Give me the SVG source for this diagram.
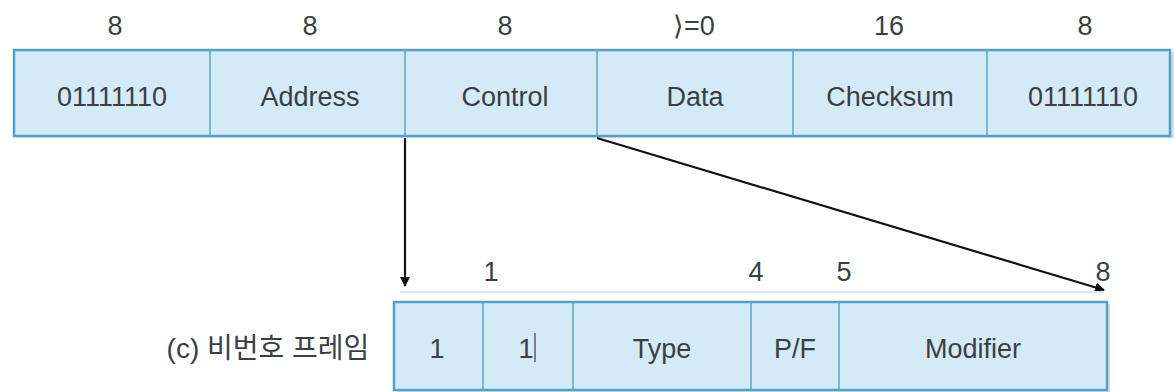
<svg xmlns="http://www.w3.org/2000/svg" width="1174" height="392" viewBox="0 0 1174 392">
<defs>
<style>
.t{font-family:"Liberation Sans",Arial,"Noto Sans CJK KR",sans-serif;font-size:27px;fill:#3a3f44;text-anchor:middle}
.cap{font-size:28px}
.box{fill:#d5eaf7;stroke:#4fa3c9;stroke-width:2.5}
.div{stroke:#5aa6c8;stroke-width:1.5}
.con{stroke:#111;stroke-width:2.2;fill:none}
</style>
<marker id="ah" markerWidth="10" markerHeight="10" refX="9" refY="5" orient="auto" markerUnits="userSpaceOnUse">
<path d="M0,0 L10,5 L0,10 z" fill="#111"/>
</marker>
</defs>
<rect width="1174" height="392" fill="#fff"/>
<g id="labels-top">
<text class="t" x="115" y="35">8</text>
<text class="t" x="310" y="35">8</text>
<text class="t" x="505" y="35">8</text>
<text class="t" x="694" y="35">⟩=0</text>
<text class="t" x="889" y="35">16</text>
<text class="t" x="1085" y="35">8</text>
</g>
<g id="frame-top">
<rect x="16" y="52" width="1158" height="86" fill="#bbb" opacity="0.5"/>
<rect class="box" x="14" y="50" width="1156" height="86"/>
<line class="div" x1="210" y1="51" x2="210" y2="135"/>
<line class="div" x1="405" y1="51" x2="405" y2="135"/>
<line class="div" x1="597" y1="51" x2="597" y2="135"/>
<line class="div" x1="793" y1="51" x2="793" y2="135"/>
<line class="div" x1="987" y1="51" x2="987" y2="135"/>
<text class="t" x="112" y="106">01111110</text>
<text class="t" x="310" y="106">Address</text>
<text class="t" x="505" y="106">Control</text>
<text class="t" x="695" y="106">Data</text>
<text class="t" x="890" y="106">Checksum</text>
<text class="t" x="1083" y="106">01111110</text>
</g>
<g id="connectors">
<line class="con" x1="405" y1="138" x2="405" y2="286" marker-end="url(#ah)"/>
<line class="con" x1="597" y1="138" x2="1104" y2="290" marker-end="url(#ah)"/>
</g>
<g id="labels-bottom">
<line x1="400" y1="292" x2="1104" y2="292" stroke="#d6e9f3" stroke-width="2"/>
<text class="t" x="491" y="281">1</text>
<text class="t" x="756" y="281">4</text>
<text class="t" x="844" y="281">5</text>
<text class="t" x="1103" y="281">8</text>
</g>
<g id="caption">
<text class="t cap" x="268" y="358">(c) 비번호 프레임</text>
</g>
<g id="frame-bottom">
<rect x="397" y="304" width="713" height="88" fill="#bbb" opacity="0.5"/>
<rect class="box" x="394" y="302" width="713" height="88"/>
<line class="div" x1="483" y1="303" x2="483" y2="389"/>
<line class="div" x1="573" y1="303" x2="573" y2="389"/>
<line class="div" x1="751" y1="303" x2="751" y2="389"/>
<line class="div" x1="839" y1="303" x2="839" y2="389"/>
<text class="t" x="437" y="358">1</text>
<text class="t" x="526" y="358">1</text>
<line x1="535" y1="333" x2="535" y2="362" stroke="#3a3f44" stroke-width="1.2"/>
<text class="t" x="662" y="358">Type</text>
<text class="t" x="795" y="358">P/F</text>
<text class="t" x="973" y="358">Modifier</text>
</g>
</svg>
